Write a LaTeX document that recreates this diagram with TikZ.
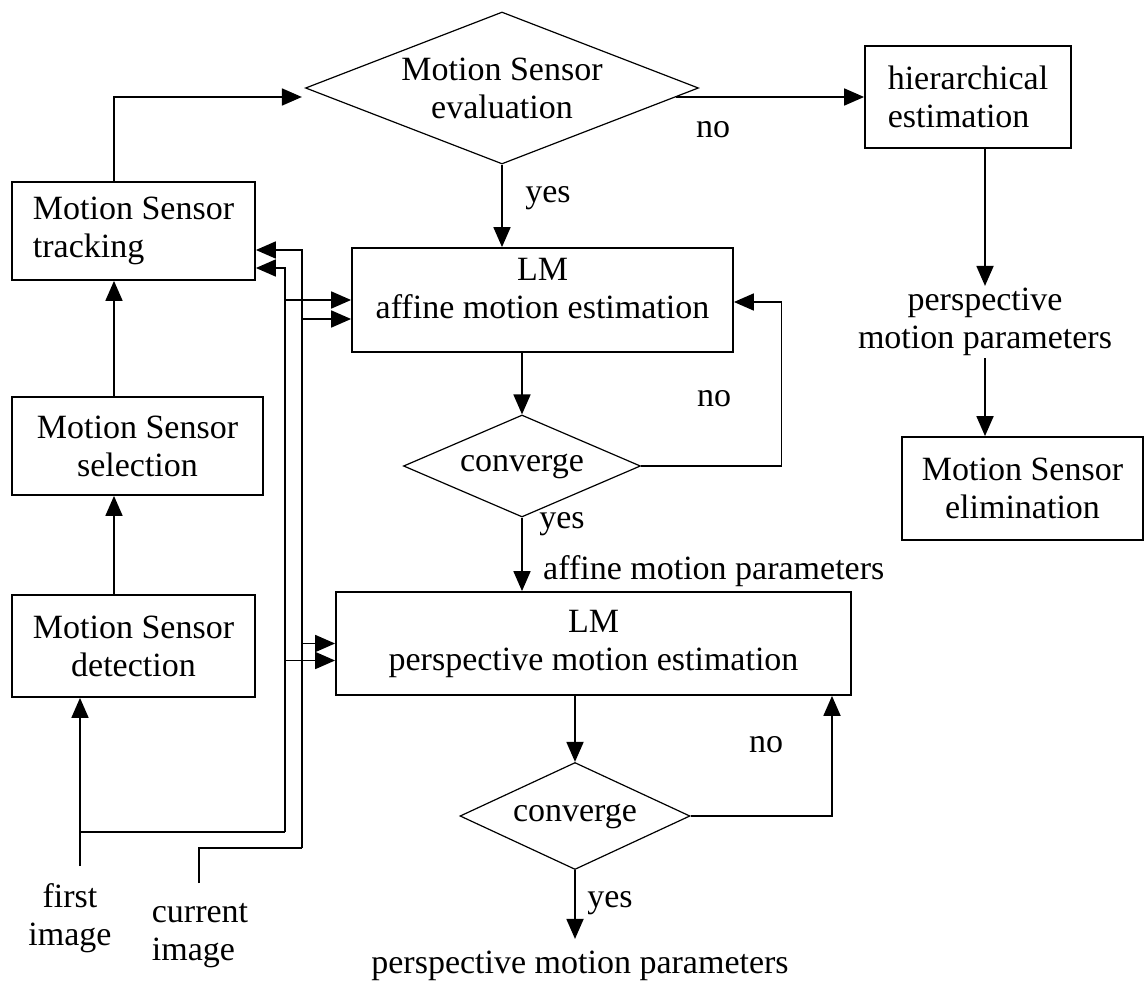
\documentclass[tikz,border=0pt]{standalone}
\usepackage{fontspec}
\setmainfont{Liberation Serif}
\usetikzlibrary{arrows.meta,positioning,calc,shapes.geometric}
\tikzset{
  box/.style={draw, line width=1.8pt, inner sep=4pt},
  dia/.style={draw, diamond, line width=1.2pt, inner sep=0pt},
  lbl/.style={inner sep=2pt},
  line/.style={line width=1.8pt},
  arrow/.style={-{Triangle[length=20pt,width=17pt]}, line width=1.8pt},
}

\begin{document}
\begin{tikzpicture}[x=1pt,y=-1pt,font=\fontsize{34}{38}\selectfont]
  \useasboundingbox (0,0) rectangle (1148,984);
  \node[box, minimum width=243, minimum height=98, align=left] (track) at (133.5,231) {Motion Sensor\\tracking};
  \node[box, minimum width=251, minimum height=98, align=center] (select) at (137.5,446) {Motion Sensor\\selection};
  \node[box, minimum width=243, minimum height=102, align=center] (detect) at (133.5,646) {Motion Sensor\\detection};
  \node[dia, minimum width=393, minimum height=152, aspect=2.59, align=center] (eval) at (502,88) {Motion Sensor\\evaluation};
  \node[box, minimum width=381, minimum height=104, align=center, text depth=24pt] (affine) at (542.5,300) {LM\\affine motion estimation};
  \node[dia, minimum width=237, minimum height=102, aspect=2.32] (conv1) at (522,466) {converge};
  \node[box, minimum width=515, minimum height=103, align=center] (persp) at (593.5,643.5) {LM\\perspective motion estimation};
  \node[dia, minimum width=230, minimum height=107, aspect=2.15] (conv2) at (575,816) {converge};
  \node[box, minimum width=206, minimum height=102, align=left] (hier) at (968,97) {hierarchical\\estimation};
  \node[lbl, align=center] (pp) at (985,322) {perspective\\motion parameters};
  \node[box, minimum width=241, minimum height=103, align=center] (elim) at (1022.5,488.5) {Motion Sensor\\elimination};
  \node[lbl, align=center] (fimg) at (70,918) {first\\image};
  \node[lbl, align=left] (cimg) at (200,936) {current\\image};
  \node[lbl] (pmp) at (580,966) {perspective motion parameters};
  \node[lbl] (no1) at (713,130) {no};
  \node[lbl] (yes1) at (548,198) {yes};
  \node[lbl] (no2) at (714,399) {no};
  \node[lbl] (yes2) at (562,524) {yes};
  \node[lbl, anchor=west] (amp) at (541,571) {affine motion parameters};
  \node[lbl] (no3) at (766,745) {no};
  \node[lbl] (yes3) at (610,903) {yes};

  \coordinate (col) at (114,0);
  \coordinate (col2) at (985,0);
  \coordinate (fi) at (80,866);
  \coordinate (ci) at (199,883);
  \coordinate (busa) at (285,832);
  \coordinate (busb) at (302,848);

  \draw[arrow] (fi) -- (fi |- detect.south);
  \draw[arrow] (col |- detect.north) -- (col |- select.south);
  \draw[arrow] (col |- select.north) -- (col |- track.south);
  \draw[arrow] (col |- track.north) |- ($(eval.west)+(-3,9)$);
  \draw[arrow] ($(eval.east)+(-23,9)$) -- (hier.west);
  \draw[arrow] (col2 |- hier.south) -- (col2 |- pp.north);
  \draw[arrow] (col2 |- pp.south) -- (col2 |- elim.north);
  \draw[arrow] (eval.south) -- (eval.south |- affine.north);
  \draw[arrow] (conv1 |- affine.south) -- (conv1.north);
  \draw[arrow] (conv1.east) -| ($(affine.east)+(47.5,2)$) -- ($(affine.east)+(0,2)$);
  \draw[arrow] (conv1.south) -- (conv1 |- persp.north);
  \draw[arrow] (conv2 |- persp.south) -- (conv2.north);
  \draw[arrow] (conv2.east) -| ($(persp.south)+(238.5,0)$);
  \draw[arrow] (conv2.south) -- ($(conv2 |- pmp.north)+(0,-10)$);

  \draw[line] (fi |- busa) -- (busa);
  \draw[line] (ci) |- (busb);
  \draw[arrow] (busa) |- ($(track.east)+(0,37)$);
  \draw[arrow] (busb) |- ($(track.east)+(0,19)$);
  \draw[arrow] (busa |- affine.west) -- (affine.west);
  \draw[arrow] ($(busb |- affine.west)+(0,19)$) -- ($(affine.west)+(0,19)$);
  \draw[arrow] (busb |- persp.west) -- (persp.west);
  \draw[arrow] ($(busa |- persp.west)+(0,17)$) -- ($(persp.west)+(0,17)$);
\end{tikzpicture}
\end{document}
